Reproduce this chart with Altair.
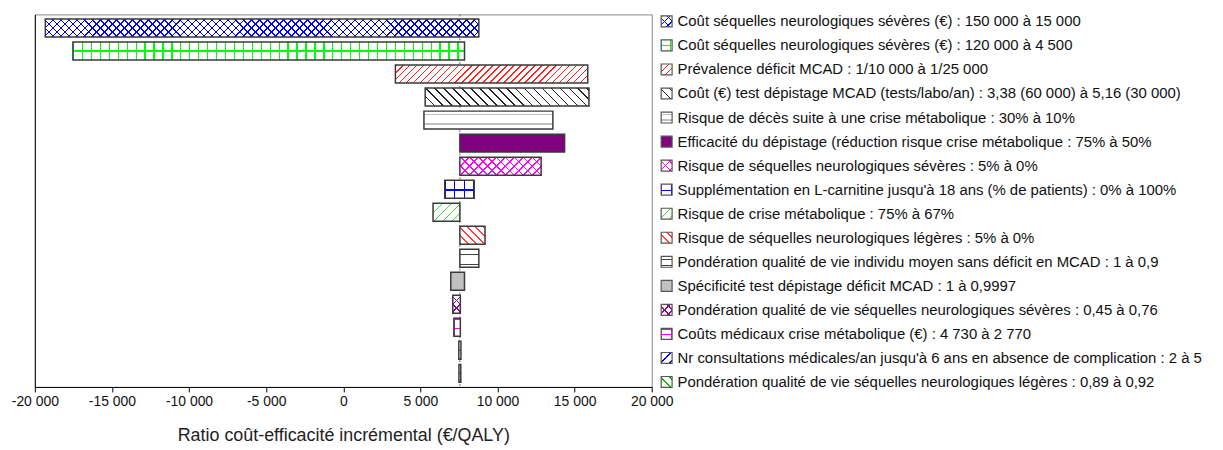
import altair as alt
import pandas as pd

# ---------------- data ----------------
labels = [
    "Coût séquelles neurologiques sévères (€) : 150 000 à 15 000",
    "Coût séquelles neurologiques sévères (€) : 120 000 à 4 500",
    "Prévalence déficit MCAD : 1/10 000 à 1/25 000",
    "Coût (€) test dépistage MCAD (tests/labo/an) : 3,38 (60 000) à 5,16 (30 000)",
    "Risque de décès suite à une crise métabolique : 30% à 10%",
    "Efficacité du dépistage (réduction risque crise métabolique : 75% à 50%",
    "Risque de séquelles neurologiques sévères : 5% à 0%",
    "Supplémentation en L-carnitine jusqu'à 18 ans (% de patients) : 0% à 100%",
    "Risque de crise métabolique : 75% à 67%",
    "Risque de séquelles neurologiques légères : 5% à 0%",
    "Pondération qualité de vie individu moyen sans déficit en MCAD : 1 à 0,9",
    "Spécificité test dépistage déficit MCAD : 1 à 0,9997",
    "Pondération qualité de vie séquelles neurologiques sévères : 0,45 à 0,76",
    "Coûts médicaux crise métabolique (€) : 4 730 à 2 770",
    "Nr consultations médicales/an jusqu'à 6 ans en absence de complication : 2 à 5",
    "Pondération qualité de vie séquelles neurologiques légères : 0,89 à 0,92",
]
low = [-19320, -17530, 3380, 5310, 5230, 7560, 7560, 6580,
       5820, 7560, 7560, 6970, 7100, 7170, 7490, 7500]
high = [8790, 7860, 15850, 15930, 13590, 14350, 12830, 8490,
        7560, 9190, 8790, 7860, 7590, 7590, 7630, 7620]
base_value = [7560]
x_ticks = [-20000, -15000, -10000, -5000, 0, 5000, 10000, 15000, 20000]
x_domain = [-20000, 20000]

# ---------------- styles ----------------
W_PLOT, H_PLOT = 621, 375
PAD_IN, PAD_OUT = 0.22, 0.2
FONT = "Liberation Sans"
N = len(labels)
STEP = H_PLOT / (N - PAD_IN + 2 * PAD_OUT)
BAR_H = STEP * (1 - PAD_IN)
PX_PER_UNIT = W_PLOT / (x_domain[1] - x_domain[0])

PATTERNS = [
    [("d1", "#0000ff", 8), ("d2", "#0000ff", 8)],
    [("v", "#00ff00", 9), ("h", "#00ff00", [0.5])],
    [("d1", "#ff2020", 7)],
    [("d2", "#222222", 9)],
    [("h", "#c0c0c0", [0.2, 0.72])],
    [("solid", "#800080", None)],
    [("d1", "#ff00ff", 9), ("d2", "#ff00ff", 9)],
    [("v", "#0000ff", 9.5), ("h", "#0000ff", [0.55])],
    [("d1", "#33dd33", 9)],
    [("d2", "#ff4040", 8)],
    [("h", "#444444", [0.3, 0.85])],
    [("solid", "#c0c0c0", None)],
    [("d1", "#990099", 8), ("d2", "#990099", 8)],
    [("v", "#ff00ff", 10), ("h", "#ff00ff", [0.08, 0.55])],
    [("d1", "#0000ff", 9)],
    [("d2", "#00c000", 9)],
]
TRANSP = "rgba(255,255,255,0)"


def r(v):
    return round(min(max(v, 0.0), 1.0), 5)


def stripe_stops(L, period, lw, color, bg):
    stops = [{"offset": 0, "color": bg}]
    pos = 0.0
    while pos < L:
        a, b = r(pos / L), r((pos + lw) / L)
        stops += [{"offset": a, "color": bg}, {"offset": a, "color": color},
                  {"offset": b, "color": color}, {"offset": b, "color": bg}]
        pos += period
    stops.append({"offset": 1, "color": bg})
    return stops


def make_fill(kind, color, param, W, H, bg):
    if kind == "solid":
        return color
    W = max(W, 0.5)
    if kind == "v":
        return {"gradient": "linear", "x1": 0, "y1": 0, "x2": 1, "y2": 0,
                "stops": stripe_stops(W, param, 1.3, color, bg)}
    if kind == "h":
        stops = [{"offset": 0, "color": bg}]
        half = 0.7 / H
        for f in param:
            a, b = r(f - half), r(f + half)
            stops += [{"offset": a, "color": bg}, {"offset": a, "color": color},
                      {"offset": b, "color": color}, {"offset": b, "color": bg}]
        stops.append({"offset": 1, "color": bg})
        return {"gradient": "linear", "x1": 0, "y1": 0, "x2": 0, "y2": 1,
                "stops": stops}
    L = W + H
    k = L / (W * W + H * H)
    stops = stripe_stops(L, param, 1.6, color, bg)
    if kind == "d1":
        return {"gradient": "linear", "x1": 0, "y1": 0, "x2": k * W, "y2": k * H,
                "stops": stops}
    return {"gradient": "linear", "x1": 0, "y1": 1, "x2": k * W, "y2": 1 - k * H,
            "stops": stops}


df = pd.DataFrame({"idx": list(range(N)), "label": labels, "low": low, "high": high})

xaxis = alt.Axis(
    values=x_ticks,
    labelExpr="(datum.value < 0 ? '-' : '') + replace(format(abs(datum.value), ','), ',', ' ')",
    grid=False, tickSize=5, tickColor="black", domainColor="black",
    labelFont=FONT, labelFontSize=14, labelColor="#111", labelPadding=3,
    labelFlush=False, labelOverlap=False,
    titleFont=FONT, titleFontSize=18, titleFontWeight="normal",
    titleColor="#222", titlePadding=18,
)
xscale = alt.Scale(domain=x_domain, nice=False, zero=False)
TITLE = "Ratio coût-efficacité incrémental (€/QALY)"
X = alt.X("low:Q", scale=xscale, axis=xaxis, title=TITLE)
Y = alt.Y("label:N", scale=alt.Scale(domain=labels, paddingInner=PAD_IN, paddingOuter=PAD_OUT),
          axis=alt.Axis(labels=False, ticks=False, domainColor="black", grid=False), title=None)

rule = alt.Chart(pd.DataFrame({"base": base_value})).mark_rule(
    color="#666", strokeDash=[2, 2], strokeWidth=1
).encode(x=alt.X("base:Q", scale=xscale, axis=xaxis, title=TITLE))

bar_layers = [rule]
for i in range(N):
    W = (high[i] - low[i]) * PX_PER_UNIT
    for j, (kind, color, param) in enumerate(PATTERNS[i]):
        fill = make_fill(kind, color, param, W, BAR_H, "#ffffff" if j == 0 else TRANSP)
        bar_layers.append(
            alt.Chart(df).transform_filter(alt.datum.idx == i)
            .mark_bar(fill=fill, strokeWidth=0)
            .encode(x=X, x2="high:Q", y=Y)
        )
bar_layers.append(
    alt.Chart(df).mark_bar(fillOpacity=0, stroke="#3a3a3a", strokeWidth=1.5)
    .encode(x=X, x2="high:Q", y=Y)
)
bars = alt.layer(*bar_layers)

# legend
LY = alt.Y("label:N", scale=alt.Scale(type="point", domain=labels, range=[7, 370], padding=0),
           axis=None)
SQ = 11
leg_layers = []
for i in range(N):
    for j, (kind, color, param) in enumerate(PATTERNS[i]):
        fill = make_fill(kind, color, param, SQ, SQ, "#ffffff" if j == 0 else TRANSP)
        leg_layers.append(
            alt.Chart(df).transform_filter(alt.datum.idx == i)
            .mark_square(size=SQ * SQ, fill=fill, opacity=1, strokeWidth=0)
            .encode(x=alt.value(636), y=LY)
        )
leg_layers.append(
    alt.Chart(df).mark_square(size=SQ * SQ, fillOpacity=0, opacity=1, stroke="#555", strokeWidth=1.2)
    .encode(x=alt.value(636), y=LY)
)
leg_layers.append(
    alt.Chart(df).mark_text(align="left", baseline="middle", font=FONT, fontSize=15, color="#111")
    .encode(x=alt.value(647), y=LY, text="label:N")
)
legend = alt.layer(*leg_layers)

chart = alt.layer(bars, legend).resolve_scale(y="independent").properties(
    width=W_PLOT, height=H_PLOT,
    padding={"left": 27, "top": 5, "right": 567, "bottom": 62},
    autosize=alt.AutoSizeParams(type="none"),
).configure_view(stroke="#888")

chart.save("out.html", embed_options={"renderer": "svg", "actions": False})
